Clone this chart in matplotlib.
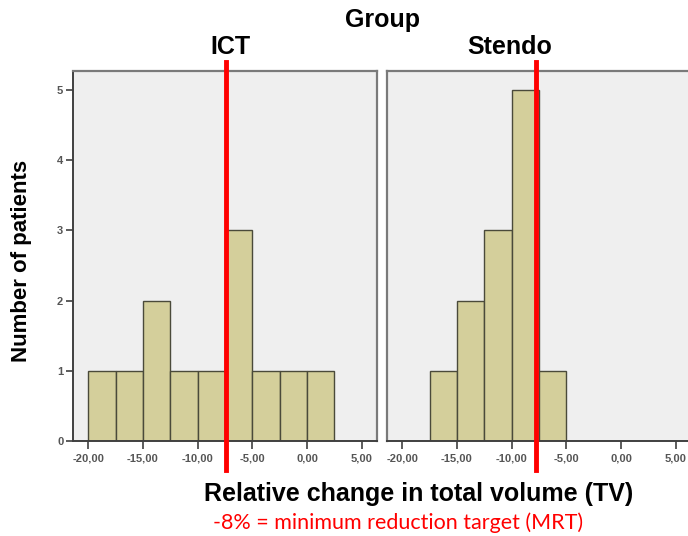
import matplotlib.pyplot as plt
import matplotlib.ticker as mticker

# ─── DONNÉES ────────────────────────────────────────────────────────────────
bin_edges_left = [-20.0, -17.5, -15.0, -12.5, -10.0, -7.5, -5.0, -2.5, 0.0]
counts_ict = [1, 1, 2, 1, 1, 3, 1, 1, 1]

bin_edges_stendo = [-17.5, -15.0, -12.5, -10.0, -7.5]
counts_stendo = [1, 2, 3, 5, 1]

groups = ["ICT", "Stendo"]
mrt_positions = [-7.45, -7.8]   # red line as drawn on each panel
xticks = [-20, -15, -10, -5, 0, 5]
yticks = [0, 1, 2, 3, 4, 5]
bin_width = 2.5

BAR_COLOR = "#D4CF9B"
EDGE_COLOR = "#4a4a3a"
BG_COLOR = "#EFEFEF"

plt.rcParams["font.family"] = ["Liberation Sans", "DejaVu Sans"]

fig = plt.figure(figsize=(6.88, 5.36), dpi=100)
W, H = 688.0, 536.0
ax_l = fig.add_axes([73 / W, 95 / H, 304 / W, 370 / H])
ax_r = fig.add_axes([387 / W, 95 / H, 304 / W, 370 / H])

panels = [
    (ax_l, bin_edges_left, counts_ict),
    (ax_r, bin_edges_stendo, counts_stendo),
]
title_x = [230, 510]

for i, (ax, edges, counts) in enumerate(panels):
    ax.set_facecolor(BG_COLOR)
    ax.bar(edges, counts, width=bin_width, align="edge",
           color=BAR_COLOR, edgecolor=EDGE_COLOR, linewidth=1.0, zorder=2)
    ax.set_xlim(-21.4, 6.4)
    ax.set_ylim(0, 5.27)
    ax.set_xticks(xticks)
    ax.xaxis.set_major_formatter(
        mticker.FuncFormatter(lambda v, p: f"{v:.2f}".replace(".", ",")))
    ax.tick_params(axis="x", direction="out", length=6, width=1.2,
                   colors="#404040", labelsize=8, labelcolor="#555555", pad=3)
    for lab in ax.get_xticklabels():
        lab.set_fontweight("bold")
    for side in ["top", "right"]:
        ax.spines[side].set_color("#7a7a7a")
        ax.spines[side].set_linewidth(1.6)
    for side in ["left", "bottom"]:
        ax.spines[side].set_color("#404040")
        ax.spines[side].set_linewidth(1.4)

    if i == 0:
        ax.set_yticks(yticks)
        ax.tick_params(axis="y", direction="out", length=5, width=1.2,
                       colors="#404040", labelsize=8, labelcolor="#555555", pad=2)
        for lab in ax.get_yticklabels():
            lab.set_fontweight("bold")
    else:
        ax.set_yticks([])
        ax.spines["left"].set_color("#7a7a7a")
        ax.spines["left"].set_linewidth(1.6)

    # ligne rouge MRT, dépasse du cadre
    ax.axvline(mrt_positions[i], ymin=-0.078, ymax=1.024, color="#FF0000",
               linewidth=3.5, clip_on=False, zorder=5)

    fig.text(title_x[i] / W, 1 - 47 / H, groups[i], ha="center", va="center",
             fontsize=18, fontweight="bold")

fig.text(382 / W, 1 - 20 / H, "Group", ha="center", va="center",
         fontsize=18, fontweight="bold")
fig.text(22 / W, 1 - 261 / H, "Number of patients", ha="center", va="center",
         rotation=90, fontsize=16, fontweight="bold")
fig.text(419 / W, 1 - 494 / H, "Relative change in total volume (TV)",
         ha="center", va="center", fontsize=18, fontweight="bold")
fig.text(398 / W, 1 - 523 / H, "-8% = minimum reduction target (MRT)",
         ha="center", va="center", fontsize=15.5, color="#FF0000",
         family=["Lato", "DejaVu Sans"])

plt.savefig("out.png", dpi=100)
plt.close()
